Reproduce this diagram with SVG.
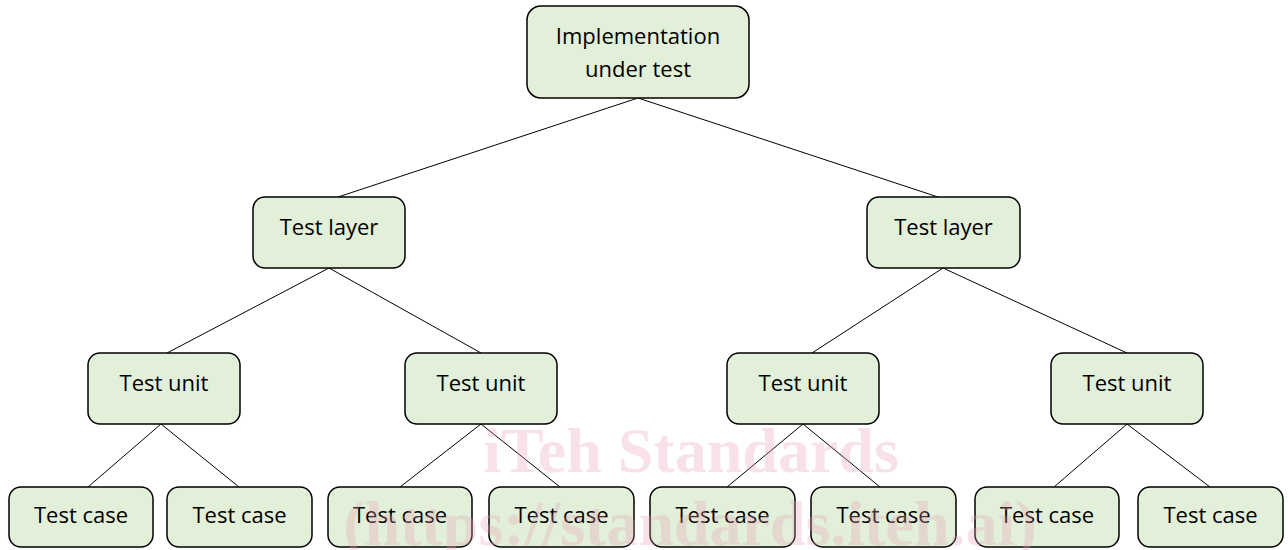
<svg xmlns="http://www.w3.org/2000/svg" width="1288" height="550" viewBox="0 0 1288 550">
<style>
.n rect{fill:#e2efd9;stroke:#000;stroke-width:1.5}
.n text{font-family:"Open Sans","Noto Sans",sans-serif;font-size:22px;fill:#000;text-anchor:middle}
.c line{stroke:#000;stroke-width:1}
.wm{font-family:"Liberation Serif",serif;font-weight:bold;fill:#e8a0b4;fill-opacity:0.3;text-anchor:middle;font-size:64px}
</style>
<rect width="1288" height="550" fill="#fff"/>
<g class="c">
<line x1="638" y1="98" x2="338" y2="197"/>
<line x1="638" y1="98" x2="938" y2="197"/>
<line x1="329" y1="268" x2="167" y2="353"/>
<line x1="329" y1="268" x2="481" y2="353"/>
<line x1="943" y1="268" x2="812" y2="353"/>
<line x1="943" y1="268" x2="1127" y2="353"/>
<line x1="161" y1="424" x2="88" y2="487"/>
<line x1="161" y1="424" x2="239" y2="487"/>
<line x1="481" y1="424" x2="400" y2="487"/>
<line x1="481" y1="424" x2="560" y2="487"/>
<line x1="803" y1="424" x2="727" y2="487"/>
<line x1="803" y1="424" x2="880" y2="487"/>
<line x1="1127" y1="424" x2="1054" y2="487"/>
<line x1="1127" y1="424" x2="1210" y2="487"/>
</g>
<g id="root" class="n"><rect x="527" y="6" width="222" height="92" rx="14"/><text x="638" y="44">Implementation</text><text x="638" y="77">under test</text></g>
<g id="layer1" class="n"><rect x="253" y="197" width="152" height="71" rx="12"/><text x="329" y="235">Test layer</text></g>
<g id="layer2" class="n"><rect x="867" y="197" width="153" height="71" rx="12"/><text x="943.5" y="235">Test layer</text></g>
<g id="unit1" class="n"><rect x="88" y="353" width="152" height="71" rx="12"/><text x="164" y="391">Test unit</text></g>
<g id="unit2" class="n"><rect x="405" y="353" width="152" height="71" rx="12"/><text x="481" y="391">Test unit</text></g>
<g id="unit3" class="n"><rect x="727" y="353" width="152" height="71" rx="12"/><text x="803" y="391">Test unit</text></g>
<g id="unit4" class="n"><rect x="1051" y="353" width="152" height="71" rx="12"/><text x="1127" y="391">Test unit</text></g>
<g id="case1" class="n"><rect x="9" y="487" width="144" height="60" rx="12"/><text x="81" y="523">Test case</text></g>
<g id="case2" class="n"><rect x="167" y="487" width="145" height="60" rx="12"/><text x="239.5" y="523">Test case</text></g>
<g id="case3" class="n"><rect x="328" y="487" width="144" height="60" rx="12"/><text x="400" y="523">Test case</text></g>
<g id="case4" class="n"><rect x="489" y="487" width="145" height="60" rx="12"/><text x="561.5" y="523">Test case</text></g>
<g id="case5" class="n"><rect x="650" y="487" width="145" height="60" rx="12"/><text x="722.5" y="523">Test case</text></g>
<g id="case6" class="n"><rect x="811" y="487" width="145" height="60" rx="12"/><text x="883.5" y="523">Test case</text></g>
<g id="case7" class="n"><rect x="975" y="487" width="144" height="60" rx="12"/><text x="1047" y="523">Test case</text></g>
<g id="case8" class="n"><rect x="1138" y="487" width="145" height="60" rx="12"/><text x="1210.5" y="523">Test case</text></g>
<text class="wm" x="691" y="472">iTeh Standards</text>
<text class="wm" x="690" y="545">(https://standards.iteh.ai)</text>
</svg>
